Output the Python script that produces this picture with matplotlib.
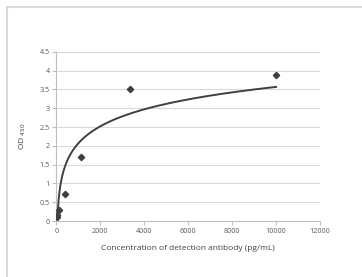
import matplotlib
matplotlib.use("Agg")
import matplotlib.pyplot as plt
import numpy as np
from matplotlib.lines import Line2D

conc = [13.7, 41, 123, 370, 1111, 3333, 10000]
od = [0.10, 0.16, 0.29, 0.72, 1.69, 3.50, 3.88]
# logarithmic trendline y = a*ln(x) + b, coefficients
trend_a = 0.65
trend_b = -2.42
xticks = [0, 2000, 4000, 6000, 8000, 10000, 12000]
yticks = [0, 0.5, 1, 1.5, 2, 2.5, 3, 3.5, 4, 4.5]
ytick_labels = ["0", "0.5", "1", "1.5", "2", "2.5", "3", "3.5", "4", "4.5"]

plt.rcParams['font.family'] = ['Open Sans', 'DejaVu Sans']
fig = plt.figure(figsize=(3.62, 2.77), dpi=100)
fig.patch.set_facecolor('white')
ax = fig.add_axes([0.156, 0.202, 0.728, 0.611])

grid_c = '#d9d9d9'
for y in yticks[1:]:
    ax.axhline(y, color=grid_c, lw=0.8, zorder=0)

xs = np.linspace(min(conc), max(conc), 2000)
ax.plot(xs, trend_a * np.log(xs) + trend_b, color='#404040', lw=1.4, zorder=2)
ax.plot(conc, od, linestyle='none', marker='D', ms=3.2, color='#404040', zorder=3)

ax.set_xlim(0, 12000)
ax.set_ylim(0, 4.5)
ax.set_xticks(xticks)
ax.set_xticklabels([str(v) for v in xticks])
ax.set_yticks(yticks)
ax.set_yticklabels(ytick_labels)
for s in ['top', 'right']:
    ax.spines[s].set_visible(False)
for s in ['left', 'bottom']:
    ax.spines[s].set_color('#bfbfbf')
    ax.spines[s].set_linewidth(0.8)
ax.tick_params(axis='both', colors='#bfbfbf', length=3, width=0.8, labelsize=5.2,
               labelcolor='#595959', pad=2)
ax.set_xlabel('Concentration of detection antibody (pg/mL)', fontsize=6, color='#404040', labelpad=7)
ax.set_ylabel('OD$_{\\ 450}$', fontsize=6, color='#404040', labelpad=8)

# outer chart frame
fig.add_artist(Line2D([7/362, 7/362], [0, 1 - 7/277], color='#d9d9d9', lw=1.5, transform=fig.transFigure))
fig.add_artist(Line2D([7/362, 1], [1 - 7/277, 1 - 7/277], color='#d9d9d9', lw=1.5, transform=fig.transFigure))

fig.savefig('out.png', dpi=100)
